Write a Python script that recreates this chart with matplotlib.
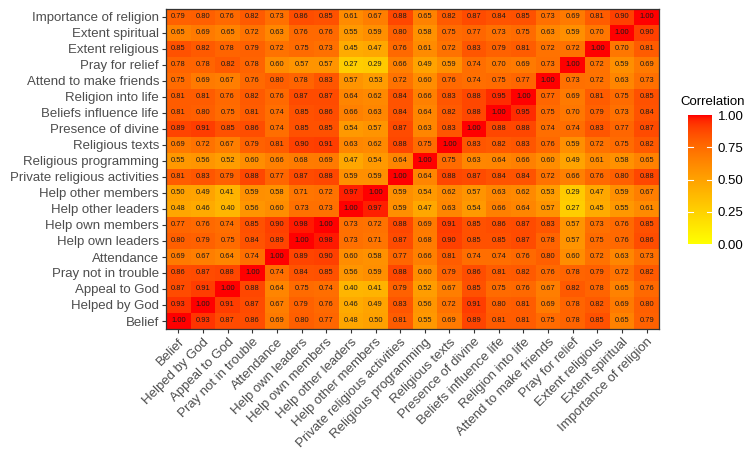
import numpy as np
import matplotlib
matplotlib.use("Agg")
import matplotlib.pyplot as plt
from matplotlib.colors import ListedColormap

plt.rcParams["font.family"] = ["Liberation Sans", "DejaVu Sans"]

labels = ["Belief", "Helped by God", "Appeal to God", "Pray not in trouble",
          "Attendance", "Help own leaders", "Help own members", "Help other leaders",
          "Help other members", "Private religious activities", "Religious programming",
          "Religious texts", "Presence of divine", "Beliefs influence life",
          "Religion into life", "Attend to make friends", "Pray for relief",
          "Extent religious", "Extent spiritual", "Importance of religion"]

# one row per label, same order as labels (bottom row of the chart first)
corr = np.array([
    [1.00, 0.93, 0.87, 0.86, 0.69, 0.80, 0.77, 0.48, 0.50, 0.81, 0.55, 0.69, 0.89, 0.81, 0.81, 0.75, 0.78, 0.85, 0.65, 0.79],
    [0.93, 1.00, 0.91, 0.87, 0.67, 0.79, 0.76, 0.46, 0.49, 0.83, 0.56, 0.72, 0.91, 0.80, 0.81, 0.69, 0.78, 0.82, 0.69, 0.80],
    [0.87, 0.91, 1.00, 0.88, 0.64, 0.75, 0.74, 0.40, 0.41, 0.79, 0.52, 0.67, 0.85, 0.75, 0.76, 0.67, 0.82, 0.78, 0.65, 0.76],
    [0.86, 0.87, 0.88, 1.00, 0.74, 0.84, 0.85, 0.56, 0.59, 0.88, 0.60, 0.79, 0.86, 0.81, 0.82, 0.76, 0.78, 0.79, 0.72, 0.82],
    [0.69, 0.67, 0.64, 0.74, 1.00, 0.89, 0.90, 0.60, 0.58, 0.77, 0.66, 0.81, 0.74, 0.74, 0.76, 0.80, 0.60, 0.72, 0.63, 0.73],
    [0.80, 0.79, 0.75, 0.84, 0.89, 1.00, 0.98, 0.73, 0.71, 0.87, 0.68, 0.90, 0.85, 0.85, 0.87, 0.78, 0.57, 0.75, 0.76, 0.86],
    [0.77, 0.76, 0.74, 0.85, 0.90, 0.98, 1.00, 0.73, 0.72, 0.88, 0.69, 0.91, 0.85, 0.86, 0.87, 0.83, 0.57, 0.73, 0.76, 0.85],
    [0.48, 0.46, 0.40, 0.56, 0.60, 0.73, 0.73, 1.00, 0.97, 0.59, 0.47, 0.63, 0.54, 0.66, 0.64, 0.57, 0.27, 0.45, 0.55, 0.61],
    [0.50, 0.49, 0.41, 0.59, 0.58, 0.71, 0.72, 0.97, 1.00, 0.59, 0.54, 0.62, 0.57, 0.63, 0.62, 0.53, 0.29, 0.47, 0.59, 0.67],
    [0.81, 0.83, 0.79, 0.88, 0.77, 0.87, 0.88, 0.59, 0.59, 1.00, 0.64, 0.88, 0.87, 0.84, 0.84, 0.72, 0.66, 0.76, 0.80, 0.88],
    [0.55, 0.56, 0.52, 0.60, 0.66, 0.68, 0.69, 0.47, 0.54, 0.64, 1.00, 0.75, 0.63, 0.64, 0.66, 0.60, 0.49, 0.61, 0.58, 0.65],
    [0.69, 0.72, 0.67, 0.79, 0.81, 0.90, 0.91, 0.63, 0.62, 0.88, 0.75, 1.00, 0.83, 0.82, 0.83, 0.76, 0.59, 0.72, 0.75, 0.82],
    [0.89, 0.91, 0.85, 0.86, 0.74, 0.85, 0.85, 0.54, 0.57, 0.87, 0.63, 0.83, 1.00, 0.88, 0.88, 0.74, 0.74, 0.83, 0.77, 0.87],
    [0.81, 0.80, 0.75, 0.81, 0.74, 0.85, 0.86, 0.66, 0.63, 0.84, 0.64, 0.82, 0.88, 1.00, 0.95, 0.75, 0.70, 0.79, 0.73, 0.84],
    [0.81, 0.81, 0.76, 0.82, 0.76, 0.87, 0.87, 0.64, 0.62, 0.84, 0.66, 0.83, 0.88, 0.95, 1.00, 0.77, 0.69, 0.81, 0.75, 0.85],
    [0.75, 0.69, 0.67, 0.76, 0.80, 0.78, 0.83, 0.57, 0.53, 0.72, 0.60, 0.76, 0.74, 0.75, 0.77, 1.00, 0.73, 0.72, 0.63, 0.73],
    [0.78, 0.78, 0.82, 0.78, 0.60, 0.57, 0.57, 0.27, 0.29, 0.66, 0.49, 0.59, 0.74, 0.70, 0.69, 0.73, 1.00, 0.72, 0.59, 0.69],
    [0.85, 0.82, 0.78, 0.79, 0.72, 0.75, 0.73, 0.45, 0.47, 0.76, 0.61, 0.72, 0.83, 0.79, 0.81, 0.72, 0.72, 1.00, 0.70, 0.81],
    [0.65, 0.69, 0.65, 0.72, 0.63, 0.76, 0.76, 0.55, 0.59, 0.80, 0.58, 0.75, 0.77, 0.73, 0.75, 0.63, 0.59, 0.70, 1.00, 0.90],
    [0.79, 0.80, 0.76, 0.82, 0.73, 0.86, 0.85, 0.61, 0.67, 0.88, 0.65, 0.82, 0.87, 0.84, 0.85, 0.73, 0.69, 0.81, 0.90, 1.00],
])

cbar_ticks = [0.00, 0.25, 0.50, 0.75, 1.00]

TEXT_GREY = "#4D4D4D"
LINE_GREY = "#333333"


# yellow -> red gradient interpolated in Lab space (like ggplot's scale_fill_gradient)
def srgb_to_lab(rgb):
    c = np.asarray(rgb, float)
    lin = np.where(c <= 0.04045, c / 12.92, ((c + 0.055) / 1.055) ** 2.4)
    m = np.array([[0.4124, 0.3576, 0.1805],
                  [0.2126, 0.7152, 0.0722],
                  [0.0193, 0.1192, 0.9505]])
    xyz = m @ lin / np.array([0.95047, 1.0, 1.08883])
    f = np.where(xyz > 0.008856, np.cbrt(xyz), 7.787 * xyz + 16 / 116)
    return np.array([116 * f[1] - 16, 500 * (f[0] - f[1]), 200 * (f[1] - f[2])])


def lab_to_srgb(lab):
    L, a, b = lab
    fy = (L + 16) / 116
    fx = fy + a / 500
    fz = fy - b / 200
    f = np.array([fx, fy, fz])
    xyz = np.where(f ** 3 > 0.008856, f ** 3, (f - 16 / 116) / 7.787)
    xyz = xyz * np.array([0.95047, 1.0, 1.08883])
    minv = np.array([[3.2406, -1.5372, -0.4986],
                     [-0.9689, 1.8758, 0.0415],
                     [0.0557, -0.2040, 1.0570]])
    lin = minv @ xyz
    lin = np.clip(lin, 0, 1)
    c = np.where(lin <= 0.0031308, 12.92 * lin, 1.055 * lin ** (1 / 2.4) - 0.055)
    return np.clip(c, 0, 1)


lab_lo = srgb_to_lab([1, 1, 0])
lab_hi = srgb_to_lab([1, 0, 0])
cols = [lab_to_srgb(lab_lo + t * (lab_hi - lab_lo)) for t in np.linspace(0, 1, 256)]
cmap = ListedColormap(cols)

fig = plt.figure(figsize=(7.52, 4.59), dpi=100)
W, H = 752, 459

# panel in pixel coords: left 166, right 659, top 9, bottom 329
ax = fig.add_axes([166 / W, 1 - 329 / H, (659 - 166) / W, (329 - 9) / H])
n = len(labels)
mesh = ax.pcolormesh(np.arange(n + 1) - 0.5, np.arange(n + 1) - 0.5, corr,
                     cmap=cmap, vmin=0, vmax=1)
for i in range(n):
    for j in range(n):
        ax.text(j, i, f"{corr[i, j]:.2f}", ha="center", va="center",
                fontsize=5.4, color="#1A1A1A")

ax.set_xlim(-0.5, n - 0.5)
ax.set_ylim(-0.5, n - 0.5)
ax.set_xticks(np.arange(n))
ax.set_yticks(np.arange(n))
ax.set_xticklabels(labels, rotation=45, ha="right", va="top",
                   rotation_mode="anchor", fontsize=9.5, color=TEXT_GREY)
ax.set_yticklabels(labels, fontsize=9.5, color=TEXT_GREY)
ax.tick_params(length=3, width=0.8, color=LINE_GREY, pad=2)
for s in ax.spines.values():
    s.set_color(LINE_GREY)
    s.set_linewidth(0.9)

# colour bar
cax = fig.add_axes([688 / W, 1 - 244 / H, (712 - 688) / W, (244 - 115) / H])
cb = fig.colorbar(mesh, cax=cax, ticks=cbar_ticks)
cb.outline.set_visible(False)
cb.ax.tick_params(length=0, labelsize=9.5, labelcolor="black", pad=4)
cb.ax.set_yticklabels([f"{t:.2f}" for t in cbar_ticks])
for t in cbar_ticks[1:-1]:
    cax.plot([0, 0.2], [t, t], color="white", lw=0.8, transform=cax.get_yaxis_transform())
    cax.plot([0.8, 1.0], [t, t], color="white", lw=0.8, transform=cax.get_yaxis_transform())
fig.text(680 / W, 1 - 102 / H, "Correlation", fontsize=9.5, ha="left", va="center")

fig.savefig("out.png", dpi=100)
